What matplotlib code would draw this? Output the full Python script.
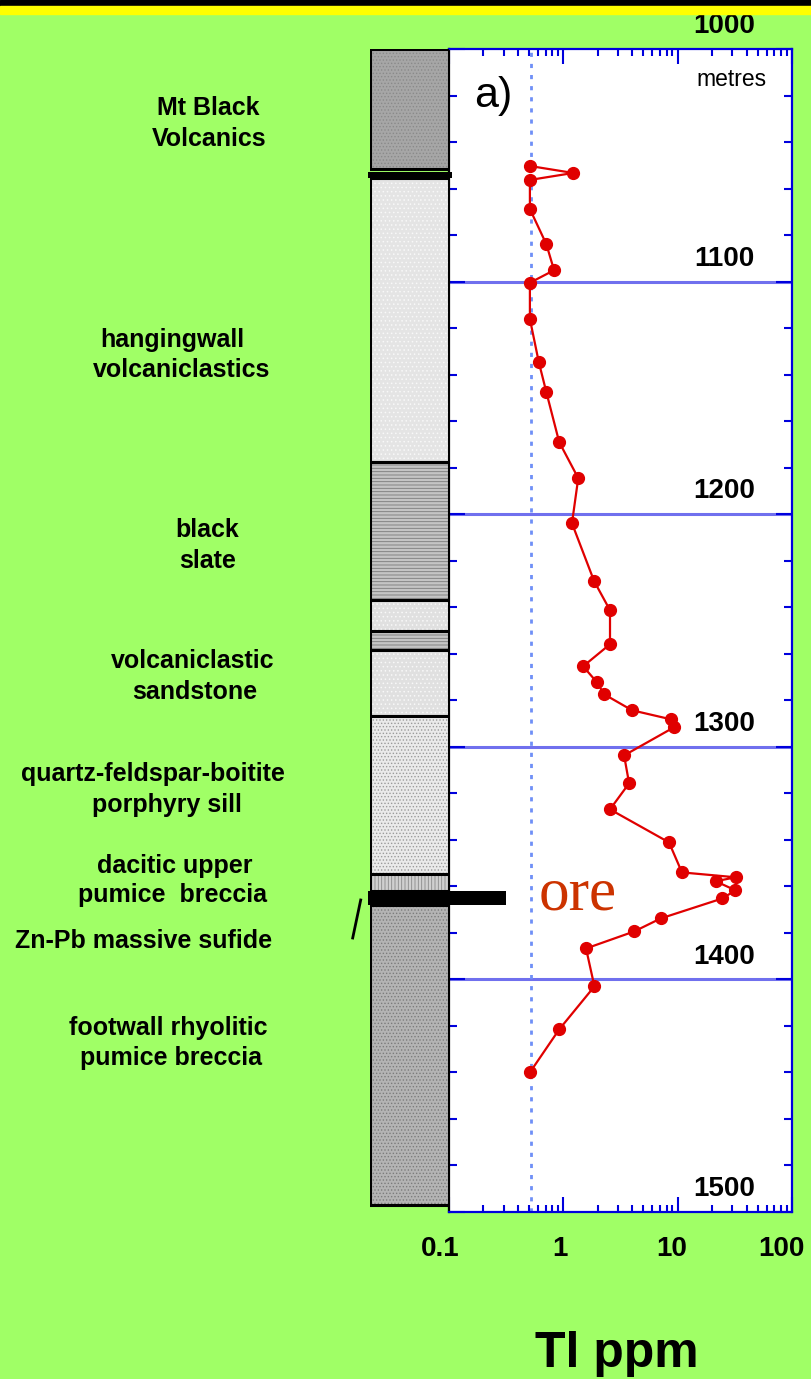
import matplotlib
matplotlib.use('Agg')
import matplotlib.pyplot as plt
import matplotlib.transforms as mtransforms
from matplotlib.patches import Rectangle
from matplotlib.lines import Line2D
from matplotlib.ticker import FixedLocator, FixedFormatter, LogLocator, NullFormatter, MultipleLocator

# Tl profile down the drill hole
depth_m = [1050.3, 1053.3, 1056.3, 1068.8, 1083.9, 1095.1, 1100.5, 1116.1, 1134.6, 1147.5,
           1169.0, 1184.5, 1203.9, 1228.8, 1241.3, 1255.9, 1265.4, 1272.3, 1277.4, 1284.3,
           1288.2, 1291.6, 1303.7, 1315.7, 1326.9, 1341.1, 1354.0, 1356.1, 1357.8, 1361.7,
           1365.2, 1373.8, 1379.4, 1386.7, 1403.0, 1421.5, 1440.0]
tl_ppm = [0.51, 1.22, 0.51, 0.51, 0.71, 0.83, 0.51, 0.51, 0.61, 0.71,
          0.92, 1.35, 1.19, 1.86, 2.56, 2.56, 1.49, 1.97, 2.27, 3.99,
          8.75, 9.3, 3.4, 3.76, 2.56, 8.4, 10.9, 32.2, 21.5, 32.0,
          24.6, 7.1, 4.16, 1.58, 1.87, 0.92, 0.51]

# lithology column
layer_top = [1000.0, 1055.5, 1177.6, 1237.0, 1250.2, 1258.5, 1286.7, 1354.8, 1368.2]
layer_bottom = [1051.6, 1177.6, 1237.0, 1250.2, 1258.5, 1286.7, 1354.8, 1362.2, 1496.8]
contact_depth = [1052.9, 1055.5]
ore_depth = [1362.2, 1368.2]
ore_right_ppm = 0.315
detection_limit = 0.52

grid_depths = [1100, 1200, 1300, 1400]
depth_labels = [1000, 1100, 1200, 1300, 1400, 1500]
x_ticks = [0.1, 1, 10, 100]
x_tick_labels = ['0.1', '1', '10', '100']

rock_lines = ['Mt Black', 'Volcanics', 'hangingwall', 'volcaniclastics', 'black', 'slate',
              'volcaniclastic', 'sandstone', 'quartz-feldspar-boitite', 'porphyry sill',
              'dacitic upper', 'pumice  breccia', 'Zn-Pb massive sufide',
              'footwall rhyolitic', 'pumice breccia']

# styles
layer_face = ['#a6a6a6', '#e4e4e4', '#c4c4c4', '#e0e0e0', '#c4c4c4', '#e0e0e0', '#eaeaea', '#d0d0d0', '#b4b4b4']
layer_hatch = ['.....', '....', '-----', '....', '-----', '....', '.....', '|||||', '.....']
layer_hatch_col = ['#8a8a8a', '#f8f8f8', '#7a7a7a', '#f8f8f8', '#7a7a7a', '#f8f8f8', '#9a9a9a', '#8a8a8a', '#7c7c7c']
rock_xy = [(208, 115), (209, 146), (172, 347), (182, 377), (207, 537), (208, 568),
           (193, 668), (195, 699), (153, 781), (167, 812), (175, 873), (173, 902),
           (144, 948), (168, 1035), (171, 1065)]

W, H = 811, 1379
GREEN = '#a0ff66'
BLUE = '#0000dd'
plt.rcParams['font.family'] = ['Liberation Sans', 'DejaVu Sans']
plt.rcParams['hatch.linewidth'] = 0.6

fig = plt.figure(figsize=(W / 100, H / 100), dpi=100, facecolor=GREEN)

ax_left, ax_right, ax_top, ax_bot = 449, 792, 49, 1212
ax = fig.add_axes([ax_left / W, 1 - ax_bot / H, (ax_right - ax_left) / W, (ax_bot - ax_top) / H])
ax_col = fig.add_axes([370 / W, 1 - ax_bot / H, (ax_left - 370) / W, (ax_bot - ax_top) / H], sharey=ax)

# top banner
fig.patches.append(Rectangle((0, 1 - 6 / H), 1, 6 / H, transform=fig.transFigure, color='black'))
fig.patches.append(Rectangle((0, 1 - 14 / H), 1, 8 / H, transform=fig.transFigure, color='#ffff00'))

# lithology column
ax_col.set_xlim(0, 1)
ax_col.axis('off')
for t, b, fc, hc, hcol in zip(layer_top, layer_bottom, layer_face, layer_hatch, layer_hatch_col):
    ax_col.barh(t, 1, height=b - t, left=0, align='edge', color=fc, hatch=hc,
                edgecolor=hcol, linewidth=0)
    ax_col.barh(t, 1, height=b - t, left=0, align='edge', fill=False,
                edgecolor='black', linewidth=2.2)
ax_col.barh(contact_depth[0], 1.065, height=contact_depth[1] - contact_depth[0], left=-0.025,
            align='edge', color='black', linewidth=0, clip_on=False)
ax_col.barh(ore_depth[0], 1.05, height=ore_depth[1] - ore_depth[0], left=-0.025,
            align='edge', color='black', linewidth=0, clip_on=False)

# main profile
ax.set_facecolor('white')
ax.set_xscale('log')
ax.set_xlim(0.1, 100)
ax.set_ylim(1500, 1000)
ax.barh(ore_depth[0], ore_right_ppm - 0.1, height=ore_depth[1] - ore_depth[0], left=0.1,
        align='edge', color='black', linewidth=0, zorder=3, clip_on=False)
for d in grid_depths:
    ax.axhline(d, color='#7070ee', lw=2.2, zorder=1)
ax.axvline(detection_limit, color='#6f8ff7', lw=2, linestyle=(0, (1.5, 2.5)), zorder=1)
ax.plot(tl_ppm, depth_m, color='#e00000', lw=1.6, marker='o', markersize=8.5,
        markerfacecolor='#e00000', markeredgecolor='#e00000', zorder=4)

for s in ['top', 'right', 'bottom']:
    ax.spines[s].set_color(BLUE)
    ax.spines[s].set_linewidth(1.6)
ax.spines['left'].set_color('black')
ax.spines['left'].set_linewidth(1.6)

ax.xaxis.set_major_locator(FixedLocator(x_ticks))
ax.xaxis.set_major_formatter(FixedFormatter(x_tick_labels))
ax.xaxis.set_minor_locator(LogLocator(base=10, subs=range(2, 10)))
ax.xaxis.set_minor_formatter(NullFormatter())
ax.yaxis.set_major_locator(MultipleLocator(100))
ax.yaxis.set_minor_locator(MultipleLocator(20))
ax.tick_params(axis='both', which='both', direction='in', color=BLUE, width=1.5,
               top=True, right=True, left=True, bottom=True, labelleft=False)
ax.tick_params(axis='x', which='major', length=10.5, pad=17, labelsize=20)
ax.tick_params(axis='x', which='minor', length=5)
ax.tick_params(axis='y', which='major', length=11.5)
ax.tick_params(axis='y', which='minor', length=6)
for lbl in ax.get_xticklabels():
    lbl.set_fontweight('bold')
for lbl, dx in zip(ax.get_xticklabels(), [-9, -3, -6, -11]):
    lbl.set_transform(lbl.get_transform() + mtransforms.ScaledTranslation(dx / 100, 0, fig.dpi_scale_trans))

# depth labels inside the plot
trans = mtransforms.blended_transform_factory(ax.transAxes, ax.transData)
for d in depth_labels:
    ax.text(0.892, d - 6.8, str(d), transform=trans, ha='right', va='baseline',
            fontsize=20, fontweight='bold', clip_on=False, zorder=5)

ax.text((731 - ax_left) / (ax_right - ax_left), 1000 + (86 - ax_top) / 2.326, 'metres',
        transform=trans, ha='center', va='baseline', fontsize=16.5)
ax.text((493 - ax_left) / (ax_right - ax_left), 1000 + (107 - ax_top) / 2.326, 'a)',
        transform=trans, ha='center', va='baseline', fontsize=31)
ax.text((578 - ax_left) / (ax_right - ax_left), 1000 + (910 - ax_top) / 2.326, 'ore',
        transform=trans, ha='center', va='baseline', fontsize=44, color='#cc3300',
        family=['Liberation Serif', 'DejaVu Serif'], zorder=5)

# rock names
for txt, (x, y) in zip(rock_lines, rock_xy):
    fig.text(x / W, 1 - y / H, txt, ha='center', va='baseline', fontsize=18, fontweight='bold')

# tick mark for the massive sulfide
fig.add_artist(Line2D([360.7 / W, 352.7 / W], [1 - 900 / H, 1 - 938 / H],
                      transform=fig.transFigure, color='black', lw=2))

fig.text(617 / W, 1 - 1367 / H, 'Tl ppm', ha='center', va='baseline', fontsize=36, fontweight='bold')

fig.savefig('out.png', dpi=100, facecolor=GREEN)
